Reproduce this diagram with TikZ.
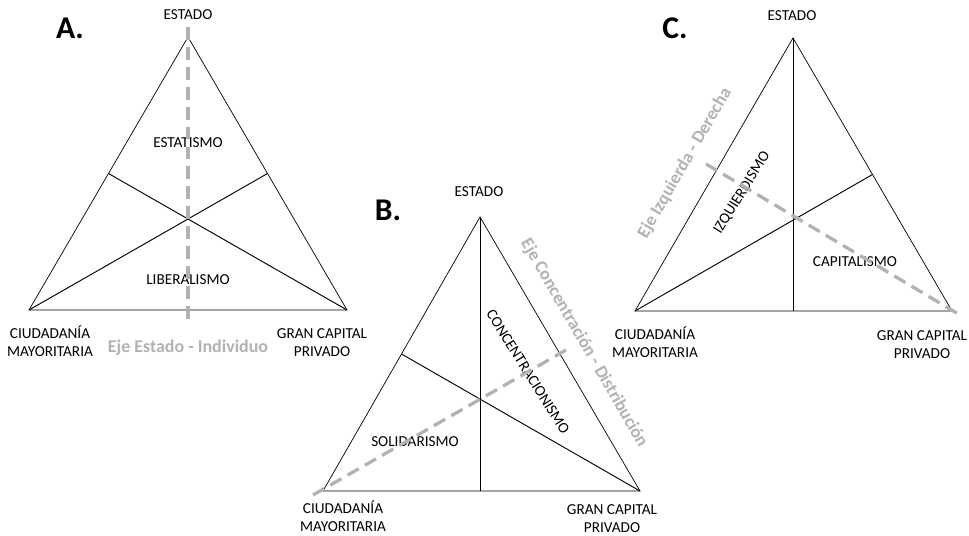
\documentclass[tikz,border=0pt]{standalone}
\usepackage{fontspec}
\setmainfont{Carlito}
\usetikzlibrary{calc, positioning}
\tikzset{
    side/.style={draw, line width=0.6pt},
    median/.style={draw, line width=0.8pt},
    axis/.style={draw=black!30, line width=2.8pt, dash pattern=on 11pt off 6pt},
    vlabel/.style={font=\fontsize{13}{15.5}\selectfont, align=center},
    zone/.style={font=\fontsize{13}{15}\selectfont},
    axlabel/.style={font=\bfseries\fontsize{15.3}{17}\selectfont, text=black!30},
    panel/.style={font=\bfseries\fontsize{27}{30}\selectfont}
}

\begin{document}
\begin{tikzpicture}[x=0.03cm, y=-0.03cm]
    \useasboundingbox (0, 0) rectangle (969, 536);
    % A. eje Estado - Individuo
    \begin{scope}
        \coordinate (aTop) at (188, 37);
        \coordinate (aLeft) at (29, 310);
        \coordinate (aRight) at (347, 310);
        \coordinate (aMidL) at ($(aTop)!0.5!(aLeft)$);
        \coordinate (aMidR) at ($(aTop)!0.5!(aRight)$);
        \coordinate (aAxisTop) at (188, 27);
        \coordinate (aAxisBot) at (188, 322);
        \node[panel] (aName) at (70, 28) {A.};
        \node[vlabel] (aEstado) at (188, 15) {ESTADO};
        \node[vlabel] (aCiud) at (50, 341) {CIUDADANÍA\\MAYORITARIA};
        \node[vlabel] (aGran) at (322, 343) {GRAN CAPITAL\\PRIVADO};
        \draw[side] (aTop) -- (aRight) -- (aLeft) -- cycle;
        \draw[median] (aLeft) -- (aMidR);
        \draw[median] (aRight) -- (aMidL);
        \node[zone] (aEstat) at (188, 143) {ESTATISMO};
        \node[zone] (aLiber) at (188, 280) {LIBERALISMO};
        \draw[axis] (aAxisTop) -- (aAxisBot);
        \node[axlabel] (aAxis) at (188, 348) {Eje Estado - Individuo};
    \end{scope}
    % B. eje Concentracion - Distribucion
    \begin{scope}
        \coordinate (bTop) at (480, 217);
        \coordinate (bLeft) at (323, 491);
        \coordinate (bRight) at (640, 491);
        \coordinate (bBase) at (480, 491);
        \coordinate (bMidL) at ($(bTop)!0.5!(bLeft)$);
        \coordinate (bAxisA) at (313, 495);
        \coordinate (bAxisB) at (566, 350);
        \node[panel] (bName) at (388, 210) {B.};
        \node[vlabel] (bEstado) at (479, 192) {ESTADO};
        \node[vlabel] (bCiud) at (343, 516) {CIUDADANÍA\\MAYORITARIA};
        \node[vlabel] (bGran) at (612, 519) {GRAN CAPITAL\\PRIVADO};
        \draw[side] (bTop) -- (bRight) -- (bLeft) -- cycle;
        \draw[median] (bTop) -- (bBase);
        \draw[median] (bRight) -- (bMidL);
        \node[zone, rotate=-58] (bConc) at (528, 372) {CONCENTRACIONISMO};
        \node[zone] (bSolid) at (415, 442) {SOLIDARISMO};
        \draw[axis] (bAxisA) -- (bAxisB);
        \node[axlabel, rotate=-60] (bAxis) at (584, 343) {Eje Concentración - Distribución};
    \end{scope}
    % C. eje Izquierda - Derecha
    \begin{scope}
        \coordinate (cTop) at (793, 38);
        \coordinate (cLeft) at (635, 311);
        \coordinate (cRight) at (952, 311);
        \coordinate (cBase) at (793, 311);
        \coordinate (cMidR) at ($(cTop)!0.5!(cRight)$);
        \coordinate (cAxisA) at (706, 164);
        \coordinate (cAxisB) at (960, 315);
        \node[panel] (cName) at (675, 28) {C.};
        \node[vlabel] (cEstado) at (792, 16) {ESTADO};
        \node[vlabel] (cCiud) at (655, 342) {CIUDADANÍA\\MAYORITARIA};
        \node[vlabel] (cGran) at (922, 345) {GRAN CAPITAL\\PRIVADO};
        \draw[side] (cTop) -- (cRight) -- (cLeft) -- cycle;
        \draw[median] (cTop) -- (cBase);
        \draw[median] (cLeft) -- (cMidR);
        \node[zone, rotate=58] (cIzq) at (742, 193) {IZQUIERDISMO};
        \node[zone] (cCapit) at (855, 262) {CAPITALISMO};
        \draw[axis] (cAxisA) -- (cAxisB);
        \node[axlabel, rotate=60] (cAxis) at (685, 163) {Eje Izquierda - Derecha};
    \end{scope}
\end{tikzpicture}
\end{document}
